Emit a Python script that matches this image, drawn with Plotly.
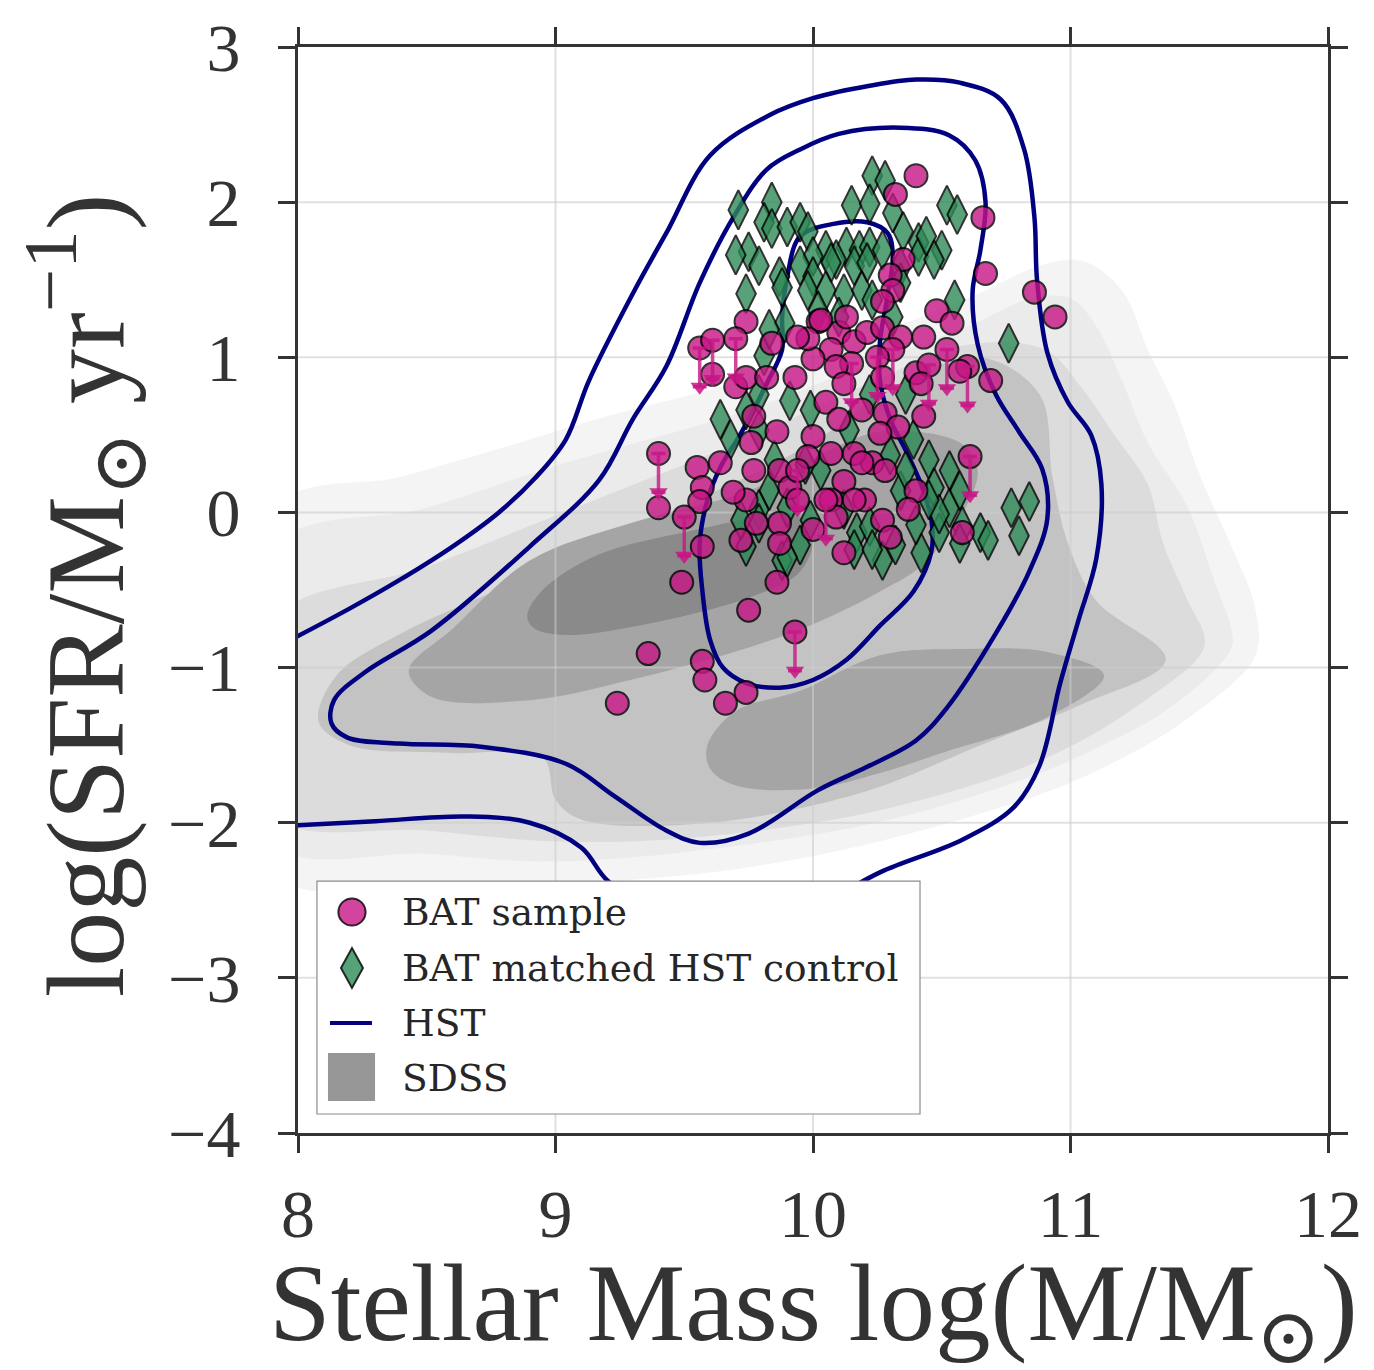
import plotly.graph_objects as go

# ---------------- data ----------------
x_ticks = [8, 9, 10, 11, 12]
y_ticks = [-4, -3, -2, -1, 0, 1, 2, 3]
x_range = [8, 12]
y_range = [-4, 3]

legend_labels = ["BAT sample", "BAT matched HST control", "HST", "SDSS"]
x_title = "Stellar Mass log(M/M<sub>⊙</sub>)"
y_title = "log(SFR/M<sub>⊙</sub> yr<sup>−1</sup>)"

# BAT sample (log M*, log SFR, upper-limit flag)
bat_mass = [10.40, 10.32, 10.66, 10.35, 10.67, 10.30, 10.31, 10.86, 10.27, 10.48,
            10.54, 10.94, 9.74, 9.56, 9.61, 9.70, 9.84, 9.61, 9.70, 9.74,
            9.82, 9.93, 10.02, 10.10, 10.07, 10.16, 10.21, 10.27, 10.34, 10.31,
            10.25, 10.15, 10.09, 10.00, 9.98, 10.43, 10.40, 10.45, 10.52, 10.60,
            10.69, 10.57, 10.42, 10.27, 10.12, 10.05, 10.10, 10.19, 10.28, 9.77,
            9.86, 10.00, 10.33, 10.43, 9.94, 10.03, 10.13, 10.26, 10.61, 10.40,
            10.37, 10.23, 10.28, 10.16, 10.07, 10.12, 10.20, 10.07, 10.00, 10.09,
            10.12, 10.27, 10.30, 10.58, 9.87, 9.91, 9.94, 9.87, 9.87, 9.78,
            9.72, 9.74, 9.77, 9.69, 9.64, 9.55, 9.57, 9.56, 9.76, 9.98,
            9.49, 9.40, 9.40, 9.50, 9.57, 9.86, 9.75, 9.93, 9.36, 9.57,
            9.58, 9.74, 9.66, 9.24, 9.94, 10.05, 10.16, 10.19]
bat_sfr = [2.17, 2.05, 1.90, 1.63, 1.54, 1.53, 1.43, 1.42, 1.36, 1.30,
           1.22, 1.26, 1.23, 1.06, 1.11, 1.12, 1.09, 0.89, 0.81, 0.87,
           0.87, 0.87, 1.23, 1.16, 1.05, 1.10, 1.16, 1.19, 1.13, 1.05,
           1.00, 0.96, 0.94, 0.99, 1.12, 1.13, 0.90, 0.95, 1.05, 0.94,
           0.85, 0.91, 0.83, 0.87, 0.83, 0.71, 0.60, 0.66, 0.64, 0.62,
           0.52, 0.49, 0.55, 0.62, 1.13, 1.24, 1.26, 0.51, 0.36, 0.14,
           0.02, 0.32, 0.27, 0.38, 0.38, 0.20, 0.08, 0.08, -0.11, -0.03,
           -0.26, -0.05, -0.16, -0.13, 0.27, 0.16, 0.08, -0.07, -0.20, -0.07,
           -0.18, 0.08, 0.27, 0.13, 0.32, 0.29, 0.16, 0.07, 0.45, 0.36,
           -0.45, 0.38, 0.03, -0.03, -0.22, -0.45, -0.63, -0.77, -0.91, -0.96,
           -1.08, -1.16, -1.23, -1.23, 0.27, 0.08, 0.08, 0.32]
bat_uplim = [0, 0, 0, 0, 0, 0, 0, 0, 0, 0,
             0, 0, 0, 1, 1, 1, 0, 0, 0, 0,
             0, 0, 0, 0, 0, 0, 0, 0, 0, 1,
             1, 1, 0, 0, 0, 0, 0, 1, 1, 1,
             0, 0, 0, 0, 0, 0, 0, 0, 0, 0,
             0, 0, 0, 0, 0, 0, 0, 0, 1, 0,
             0, 0, 0, 0, 0, 0, 0, 0, 0, 0,
             0, 0, 0, 0, 0, 0, 0, 0, 0, 0,
             0, 0, 0, 0, 0, 0, 0, 0, 0, 0,
             0, 1, 0, 1, 0, 0, 0, 1, 0, 0,
             0, 0, 0, 0, 1, 1, 0, 0]
uplim_drop = 0.25  # length of the upper-limit arrows in dex

# BAT matched HST control galaxies
ctrl_mass = [10.23, 10.28, 10.15, 10.22, 10.31, 10.52, 10.56, 9.71, 9.84, 9.81,
             9.84, 9.90, 9.95, 9.98, 9.75, 9.70, 9.79, 10.41, 10.35, 10.50,
             10.41, 10.05, 10.13, 10.18, 10.22, 10.27, 10.09, 10.00, 9.95, 9.87,
             10.00, 10.07, 10.16, 10.21, 10.34, 10.47, 10.55, 9.74, 9.88, 9.98,
             10.05, 10.12, 10.19, 10.34, 10.31, 10.76, 10.23, 10.10, 10.02, 9.89,
             9.81, 9.91, 9.99, 9.79, 10.03, 10.14, 10.22, 10.36, 10.39, 10.45,
             10.47, 10.53, 10.49, 10.58, 10.42, 10.27, 10.17, 10.22, 10.65, 10.68,
             10.77, 10.84, 10.80, 10.57, 10.49, 9.90, 9.74, 9.88, 9.95, 9.99,
             9.79, 9.83, 9.72, 9.85, 9.97, 10.12, 10.34, 10.36, 10.30, 10.40,
             10.32, 10.45, 10.53, 10.57, 9.83, 9.79, 9.74, 9.64, 9.68, 9.79,
             10.16, 10.23, 9.90, 10.44]
ctrl_sfr = [2.17, 2.14, 1.98, 1.99, 1.93, 1.98, 1.92, 1.95, 2.00, 1.87,
            1.83, 1.84, 1.87, 1.81, 1.68, 1.66, 1.59, 1.74, 1.81, 1.69,
            1.65, 1.69, 1.71, 1.69, 1.71, 1.69, 1.63, 1.65, 1.59, 1.52,
            1.52, 1.61, 1.59, 1.61, 1.58, 1.63, 1.37, 1.41, 1.45, 1.43,
            1.43, 1.41, 1.43, 1.48, 1.26, 1.09, 1.37, 1.26, 1.30, 1.22,
            1.01, 0.72, 0.66, 0.53, 0.27, 0.53, 0.76, 0.76, 0.47, 0.34,
            0.16, 0.03, -0.13, -0.09, -0.26, -0.31, -0.13, -0.09, -0.13, -0.18,
            0.03, 0.07, -0.15, -0.20, -0.01, 0.03, -0.22, -0.31, -0.21, -0.05,
            0.02, 0.14, -0.05, 0.34, 0.31, 0.02, 0.14, 0.27, 0.37, -0.08,
            -0.21, 0.08, 0.27, 0.14, 1.18, 0.76, 0.66, 0.60, 0.47, -0.07,
            -0.24, -0.24, -0.29, 1.78]

# HST density contours (three levels)
hst_outer_mass = [7.95, 8.2, 8.39, 8.6, 8.78, 8.92, 9.04, 9.13, 9.3, 9.43, 9.6, 9.83,
                  10.0, 10.22, 10.4, 10.57, 10.73, 10.82, 10.86, 10.87, 10.91, 10.99,
                  11.08, 11.12, 11.1, 11.03, 10.96, 10.88, 10.78, 10.58, 10.26, 10.0,
                  9.7, 9.4, 9.2, 9.1, 8.9, 8.65, 8.3, 7.95]
hst_outer_sfr = [-0.84, -0.62, -0.44, -0.22, 0.0, 0.22, 0.47, 0.85, 1.41, 1.8, 2.3, 2.56,
                 2.67, 2.75, 2.79, 2.77, 2.66, 2.34, 1.9, 1.5, 1.03, 0.71,
                 0.5, 0.18, -0.3, -0.7, -1.1, -1.63, -1.9, -2.11, -2.32, -2.55,
                 -2.7, -2.6, -2.37, -2.16, -2.0, -1.96, -1.99, -2.02]
hst_mid_mass = [9.69, 9.56, 9.43, 9.3, 9.17, 8.9, 8.52, 8.26, 8.14, 8.13, 8.19, 8.39,
                8.71, 9.04, 9.23, 9.43, 9.56, 9.75, 10.02, 10.21, 10.4, 10.52, 10.71,
                10.84, 10.91, 10.89, 10.8, 10.71, 10.64, 10.62, 10.65, 10.67, 10.63,
                10.53, 10.34, 10.1, 9.95, 9.82, 9.69]
hst_mid_sfr = [1.9, 1.48, 0.94, 0.6, 0.21, -0.22, -0.76, -1.03, -1.21, -1.36, -1.45, -1.49,
               -1.51, -1.62, -1.83, -2.05, -2.13, -2.07, -1.79, -1.64, -1.47, -1.26, -0.78,
               -0.38, -0.04, 0.28, 0.52, 0.76, 1.08, 1.43, 1.69, 2.0, 2.27,
               2.43, 2.48, 2.44, 2.34, 2.21, 1.9]
hst_inner_mass = [9.9, 9.95, 10.08, 10.21, 10.29, 10.31, 10.29, 10.26, 10.26, 10.3, 10.36,
                  10.42, 10.46, 10.46, 10.39, 10.26, 10.13, 10.0, 9.87, 9.74, 9.65, 9.6,
                  9.57, 9.56, 9.59, 9.64, 9.72, 9.82, 9.88, 9.88, 9.9]
hst_inner_sfr = [1.52, 1.78, 1.86, 1.87, 1.8, 1.65, 1.4, 1.1, 0.85, 0.6, 0.4,
                 0.18, -0.05, -0.25, -0.51, -0.73, -0.95, -1.08, -1.13, -1.1, -1.0, -0.82,
                 -0.5, -0.2, 0.08, 0.29, 0.51, 0.83, 1.05, 1.26, 1.52]

# SDSS filled density levels (outer -> inner)
sdss1_mass = [7.9, 8.4, 8.8, 9.2, 9.75, 10.2, 10.6, 10.9, 11.05, 11.2, 11.3, 11.4, 11.5,
              11.62, 11.71, 11.73, 11.69, 11.42, 11.17, 10.91, 10.26, 9.7, 9.0, 8.5, 7.9]
sdss1_sfr = [0.02, 0.23, 0.42, 0.62, 0.86, 1.12, 1.38, 1.6, 1.62, 1.43, 1.05, 0.71, 0.25,
             -0.2, -0.57, -0.85, -1.0, -1.37, -1.61, -1.8, -2.12, -2.3, -2.4, -2.42, -2.32]
sdss2_mass = [7.9, 8.5, 9.0, 9.75, 10.2, 10.6, 10.85, 11.0, 11.1, 11.2, 11.3, 11.45, 11.55,
              11.63, 11.58, 11.35, 11.1, 10.85, 10.3, 9.7, 9.0, 8.5, 7.9]
sdss2_sfr = [-0.23, 0.03, 0.3, 0.66, 0.95, 1.2, 1.38, 1.38, 1.2, 0.85, 0.45, 0.05, -0.4,
             -0.84, -0.98, -1.3, -1.52, -1.7, -1.98, -2.15, -2.25, -2.2, -2.13]
sdss3_mass = [7.9, 8.5, 9.0, 9.75, 10.2, 10.6, 10.9, 11.04, 11.17, 11.3, 11.36, 11.45, 11.52,
              11.3, 10.91, 10.26, 9.5, 9.0, 8.5, 7.9]
sdss3_sfr = [-0.7, -0.35, -0.02, 0.48, 0.82, 1.08, 1.05, 0.81, 0.5, 0.18, -0.2, -0.55, -0.86,
             -1.2, -1.58, -1.92, -2.1, -2.12, -2.05, -1.95]
sdss4_mass = [8.08, 8.15, 8.4, 8.8, 9.2, 9.6, 10.0, 10.3, 10.65, 10.88, 10.93, 10.99, 11.1,
              11.37, 11.04, 10.65, 10.2, 9.6, 9.1, 9.0, 8.95, 8.6, 8.2]
sdss4_sfr = [-1.35, -1.05, -0.78, -0.48, -0.18, 0.12, 0.45, 0.8, 1.0, 0.76, 0.23, -0.2, -0.57,
             -0.95, -1.24, -1.5, -1.8, -2.0, -1.98, -1.85, -1.58, -1.55, -1.5]
sdss5a_mass = [8.43, 8.6, 8.9, 9.29, 9.75, 10.0, 10.26, 10.58, 10.64, 10.45, 10.26, 10.0,
               9.75, 9.29, 8.9, 8.52]
sdss5a_sfr = [-1.02, -0.75, -0.31, -0.07, 0.14, 0.35, 0.52, 0.44, 0.25, -0.3, -0.51, -0.72,
              -0.87, -1.08, -1.21, -1.19]
sdss5b_mass = [9.59, 9.7, 9.95, 10.26, 10.6, 10.91, 11.13, 10.91, 10.5, 10.26, 10.0, 9.7, 9.6]
sdss5b_sfr = [-1.5, -1.28, -1.15, -0.92, -0.88, -0.9, -1.05, -1.32, -1.55, -1.68, -1.78,
              -1.76, -1.65]
sdss6_mass = [8.89, 8.95, 9.17, 9.55, 9.75, 9.92, 10.0, 9.95, 9.75, 9.29, 9.04, 8.92]
sdss6_sfr = [-0.67, -0.5, -0.27, -0.11, -0.04, 0.0, -0.15, -0.38, -0.55, -0.74, -0.79, -0.75]

# ---------------- styles ----------------
SDSS_COLORS = ["#f4f4f4", "#ebebeb", "#dcdcdc", "#c3c3c3", "#a5a5a5", "#a5a5a5", "#8a8a8a"]
HST_COLOR = "#000080"
BAT_COLOR = "#c71585"
CTRL_COLOR = "#2e8b57"
TEXT_COLOR = "#333333"
AXIS_FONT = "Liberation Serif, DejaVu Serif, serif"
LEGEND_FONT = "DejaVu Serif, serif"

fig = go.Figure()

sdss_polys = [(sdss1_mass, sdss1_sfr), (sdss2_mass, sdss2_sfr), (sdss3_mass, sdss3_sfr),
              (sdss4_mass, sdss4_sfr), (sdss5a_mass, sdss5a_sfr), (sdss5b_mass, sdss5b_sfr),
              (sdss6_mass, sdss6_sfr)]
for (xs, ys), col in zip(sdss_polys, SDSS_COLORS):
    fig.add_trace(go.Scatter(x=xs + xs[:1], y=ys + ys[:1], mode="lines", fill="toself",
                             fillcolor=col, line=dict(width=0, shape="spline", smoothing=1.0),
                             hoverinfo="skip", showlegend=False))

# grid (drawn over the SDSS shading, like the reference)
gx, gy = [], []
for v in x_ticks[1:-1]:
    gx += [v, v, None]
    gy += [y_range[0], y_range[1], None]
for v in y_ticks[1:-1]:
    gx += [x_range[0], x_range[1], None]
    gy += [v, v, None]
fig.add_trace(go.Scatter(x=gx, y=gy, mode="lines",
                         line=dict(color="rgba(205,205,205,0.6)", width=2),
                         hoverinfo="skip", showlegend=False))

for xs, ys in [(hst_outer_mass, hst_outer_sfr), (hst_mid_mass, hst_mid_sfr),
               (hst_inner_mass, hst_inner_sfr)]:
    fig.add_trace(go.Scatter(x=xs, y=ys, mode="lines",
                             line=dict(color=HST_COLOR, width=4.5, shape="spline", smoothing=1.0),
                             hoverinfo="skip", showlegend=False))

fig.add_trace(go.Scatter(x=ctrl_mass, y=ctrl_sfr, mode="markers", name=legend_labels[1],
                         marker=dict(symbol="diamond-tall", size=28, color=CTRL_COLOR,
                                     opacity=0.8, line=dict(color="black", width=2)),
                         showlegend=False))

fig.add_trace(go.Scatter(x=bat_mass, y=bat_sfr, mode="markers", name=legend_labels[0],
                         marker=dict(symbol="circle", size=23, color=BAT_COLOR,
                                     opacity=0.8, line=dict(color="black", width=2)),
                         showlegend=False))

ul_x = [m for m, f in zip(bat_mass, bat_uplim) if f]
ul_y = [s for s, f in zip(bat_sfr, bat_uplim) if f]
fig.add_trace(go.Scatter(x=ul_x, y=ul_y, mode="markers", marker=dict(size=1, opacity=0),
                         error_y=dict(type="data", symmetric=False, array=[0] * len(ul_x),
                                      arrayminus=[uplim_drop] * len(ul_x),
                                      color="rgba(199,21,133,0.8)", thickness=3.5, width=7),
                         hoverinfo="skip", showlegend=False))
fig.add_trace(go.Scatter(x=ul_x, y=[s - uplim_drop for s in ul_y], mode="markers",
                         marker=dict(symbol="triangle-down", size=16,
                                     color="rgba(199,21,133,0.85)", line=dict(width=0)),
                         hoverinfo="skip", showlegend=False))

axis_common = dict(showgrid=False, zeroline=False, showline=True, linecolor="#333333",
                   linewidth=3, mirror="allticks", ticks="outside", ticklen=17, tickwidth=2.5,
                   tickcolor="#333333", automargin=False,
                   tickfont=dict(family=AXIS_FONT, size=68, color=TEXT_COLOR))

fig.update_layout(
    width=1374, height=1370,
    margin=dict(l=298, r=46, t=47, b=237),
    paper_bgcolor="white", plot_bgcolor="white",
    showlegend=False,
    xaxis=dict(range=x_range, tickvals=x_ticks, ticklabelstandoff=2, **axis_common),
    yaxis=dict(range=y_range, tickvals=y_ticks, ticklabelstandoff=24, **axis_common),
)

# ---------------- axis titles (placed as annotations for exact positioning) ----------------
title_annotations = [
    dict(text=x_title, xref="paper", yref="paper", x=0.5, y=-0.163, xanchor="center",
         yanchor="middle", showarrow=False,
         font=dict(family=AXIS_FONT, size=111, color=TEXT_COLOR)),
    dict(text=y_title, xref="paper", yref="paper", x=-0.207, y=0.495, xanchor="center",
         yanchor="middle", textangle=-90, showarrow=False,
         font=dict(family=AXIS_FONT, size=110, color=TEXT_COLOR)),
]

# ---------------- custom legend (box, symbols, labels) ----------------
shapes = [
    dict(type="rect", xref="paper", yref="paper", x0=0.0184, x1=0.6039, y0=0.0175, y1=0.232,
         fillcolor="white", line=dict(color="#8c8c8c", width=1.2), layer="above"),
    dict(type="circle", xref="paper", yref="paper", x0=0.0392, x1=0.0656, y0=0.1910, y1=0.2160,
         fillcolor="rgba(199,21,133,0.8)", line=dict(color="rgba(0,0,0,0.8)", width=2),
         layer="above"),
    dict(type="path", xref="paper", yref="paper",
         path="M 0.0524,0.1703 L 0.0631,0.1519 L 0.0524,0.1335 L 0.0417,0.1519 Z",
         fillcolor="rgba(46,139,87,0.8)", line=dict(color="rgba(0,0,0,0.8)", width=2),
         layer="above"),
    dict(type="line", xref="paper", yref="paper", x0=0.0311, x1=0.0718, y0=0.1013, y1=0.1013,
         line=dict(color=HST_COLOR, width=4), layer="above"),
    dict(type="rect", xref="paper", yref="paper", x0=0.0291, x1=0.0748, y0=0.0295, y1=0.0737,
         fillcolor="#969696", line=dict(width=0), layer="above"),
]
legend_y = [0.2035, 0.1519, 0.1013, 0.0506]
legend_annotations = [dict(text=lab, xref="paper", yref="paper", x=0.099, y=yy, xanchor="left",
                           yanchor="middle", showarrow=False,
                           font=dict(family=LEGEND_FONT, size=37.5, color="#262626"))
                      for lab, yy in zip(legend_labels, legend_y)]
fig.update_layout(shapes=shapes, annotations=title_annotations + legend_annotations)

fig.write_html("out.html")
